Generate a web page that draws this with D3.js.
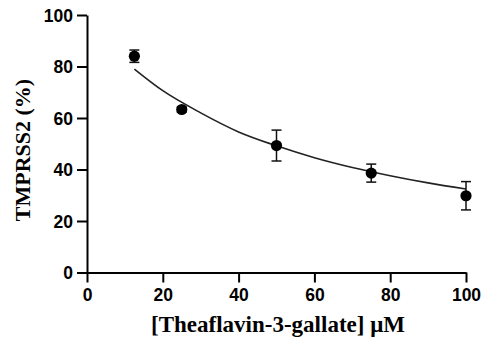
<!DOCTYPE html>
<html>
<head>
<meta charset="utf-8">
<script src="https://cdn.jsdelivr.net/npm/d3@7"></script>
<style>
  html, body { margin: 0; padding: 0; background: #fff; }
  svg { display: block; }
</style>
</head>
<body>
<svg id="chart" width="485" height="349"></svg>
<script>
// Concentration of theaflavin-3-gallate (µM)
const doses = [12.5, 25, 50, 75, 100];
// Mean TMPRSS2 activity (%) and its error
const means = [84, 63.3, 49.3, 38.6, 29.8];
const errors = [2.4, 1.0, 6.0, 3.5, 5.5];
// Fitted dose-response curve samples
const fitX = [12.5, 20, 30, 40, 50, 60, 70, 80, 90, 100];
const fitY = [79.0, 70.6, 62.0, 54.6, 49.2, 44.6, 40.8, 37.6, 34.8, 32.4];
// Axis ticks
const xTicks = [0, 20, 40, 60, 80, 100];
const yTicks = [0, 20, 40, 60, 80, 100];

const svg = d3.select("#chart");
const margin = { left: 87, right: 19, top: 15, bottom: 76.5 };
const W = 485, H = 349;

const x = d3.scaleLinear().domain([0, 100]).range([margin.left, W - margin.right]);
const y = d3.scaleLinear().domain([0, 100]).range([H - margin.bottom, margin.top]);

svg.append("rect").attr("width", W).attr("height", H).attr("fill", "#fff");

const tickFont = "Liberation Sans, Arial, sans-serif";

// X axis
const gx = svg.append("g")
  .attr("transform", `translate(0,${y(0)})`)
  .call(d3.axisBottom(x).tickValues(xTicks).tickSize(10).tickSizeOuter(0).tickPadding(6));
// Y axis
const gy = svg.append("g")
  .attr("transform", `translate(${x(0)},0)`)
  .call(d3.axisLeft(y).tickValues(yTicks).tickSize(10).tickSizeOuter(0).tickPadding(4));

[gx, gy].forEach(g => {
  g.select(".domain").attr("stroke", "#000").attr("stroke-width", 2);
  g.selectAll(".tick line").attr("stroke", "#000").attr("stroke-width", 2);
  g.selectAll(".tick text")
    .attr("fill", "#000")
    .style("font-family", tickFont)
    .style("font-weight", "bold")
    .style("font-size", "17.5px");
});
gy.selectAll(".tick text").attr("dy", "0.36em");

// Fitted curve
const line = d3.line()
  .x((d, i) => x(fitX[i]))
  .y(d => y(d))
  .curve(d3.curveMonotoneX);
svg.append("path")
  .datum(fitY)
  .attr("d", line)
  .attr("fill", "none")
  .attr("stroke", "#222")
  .attr("stroke-width", 1.6);

// Error bars
const capW = 5;
const eb = svg.append("g").attr("stroke", "#111").attr("stroke-width", 1.5);
doses.forEach((d, i) => {
  const cx = x(d), top = y(means[i] + errors[i]), bot = y(means[i] - errors[i]);
  eb.append("line").attr("x1", cx).attr("x2", cx).attr("y1", top).attr("y2", bot);
  eb.append("line").attr("x1", cx - capW).attr("x2", cx + capW).attr("y1", top).attr("y2", top);
  eb.append("line").attr("x1", cx - capW).attr("x2", cx + capW).attr("y1", bot).attr("y2", bot);
});

// Data points
svg.append("g").selectAll("circle")
  .data(doses)
  .join("circle")
  .attr("cx", d => x(d))
  .attr("cy", (d, i) => y(means[i]))
  .attr("r", 5.6)
  .attr("fill", "#000");

// Axis titles
const titleFont = "Liberation Serif, 'Times New Roman', serif";
svg.append("text")
  .attr("x", (x(0) + x(100)) / 2 + 1.5)
  .attr("y", 331.5)
  .attr("text-anchor", "middle")
  .style("font-family", titleFont)
  .style("font-weight", "bold")
  .style("font-size", "23px")
  .text("[Theaflavin-3-gallate] μM");

svg.append("text")
  .attr("transform", `translate(30,150) rotate(-90)`)
  .attr("text-anchor", "middle")
  .style("font-family", titleFont)
  .style("font-weight", "bold")
  .style("font-size", "22px")
  .text("TMPRSS2 (%)");
</script>
</body>
</html>
